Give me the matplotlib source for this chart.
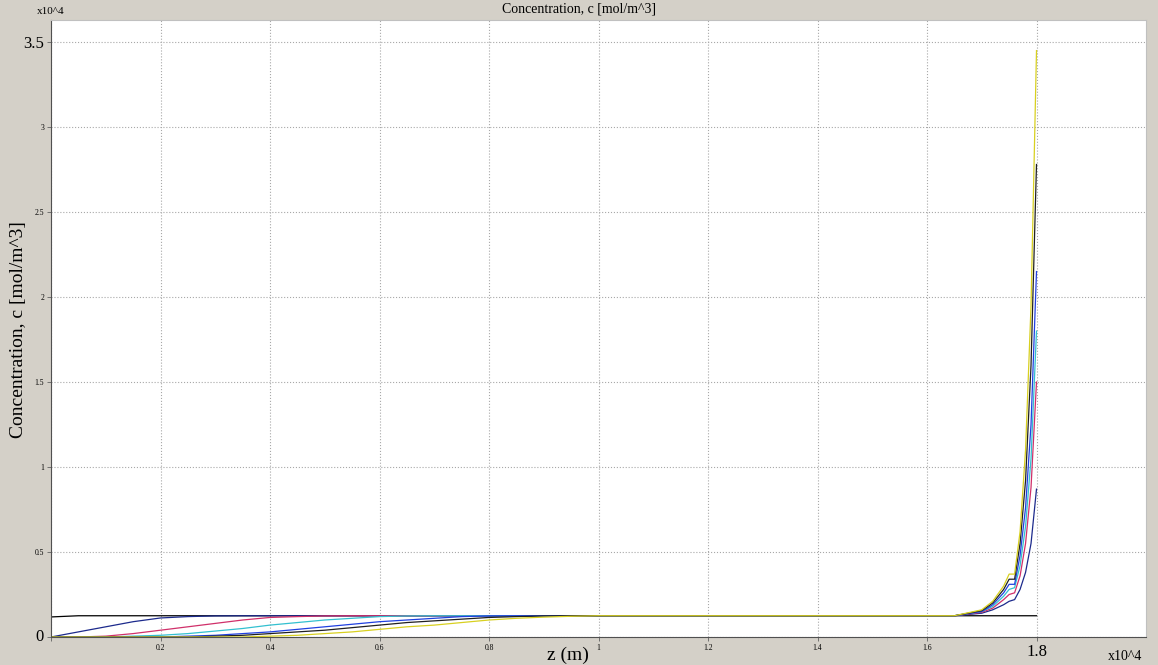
import numpy as np
import matplotlib
matplotlib.use("Agg")
import matplotlib.pyplot as plt

plt.rcParams['font.family'] = ['Liberation Serif', 'DejaVu Serif']

# z positions in units of 10^4 m
z = [0.0, 0.05, 0.1, 0.15, 0.2, 0.25, 0.3, 0.35, 0.4, 0.45, 0.5, 0.55, 0.6,
     0.65, 0.7, 0.75, 0.8, 0.85, 0.9, 0.95, 1.0, 1.6, 1.65, 1.7, 1.72, 1.74,
     1.75, 1.76, 1.77, 1.78, 1.79, 1.8]

# concentration profiles in units of 10^4 mol/m^3
c0 = [0.118, 0.125, 0.125, 0.125, 0.125, 0.125, 0.125, 0.125, 0.125, 0.125,
      0.125, 0.125, 0.125, 0.125, 0.125, 0.125, 0.125, 0.125, 0.125, 0.125,
      0.125, 0.125, 0.125, 0.125, 0.125, 0.125, 0.125, 0.125, 0.125, 0.125,
      0.125, 0.125]
c1 = [0.0, 0.03, 0.06, 0.09, 0.112, 0.12, 0.124, 0.125, 0.125, 0.125, 0.125,
      0.125, 0.125, 0.125, 0.125, 0.125, 0.125, 0.125, 0.125, 0.125, 0.125,
      0.125, 0.125, 0.14, 0.16, 0.19, 0.21, 0.22, 0.28, 0.38, 0.55, 0.87]
c2 = [0.0, 0.0, 0.005, 0.02, 0.04, 0.06, 0.08, 0.1, 0.115, 0.12, 0.124,
      0.125, 0.125, 0.125, 0.125, 0.125, 0.125, 0.125, 0.125, 0.125, 0.125,
      0.125, 0.125, 0.145, 0.17, 0.22, 0.25, 0.26, 0.36, 0.55, 0.88, 1.5]
c3 = [0.0, 0.0, 0.0, 0.005, 0.01, 0.02, 0.035, 0.05, 0.07, 0.085, 0.1, 0.11,
      0.12, 0.124, 0.125, 0.125, 0.125, 0.125, 0.125, 0.125, 0.125, 0.125,
      0.125, 0.15, 0.18, 0.24, 0.28, 0.29, 0.42, 0.65, 1.05, 1.8]
c4 = [0.0, 0.0, 0.0, 0.0, 0.0, 0.005, 0.01, 0.02, 0.03, 0.045, 0.06, 0.075,
      0.09, 0.1, 0.11, 0.12, 0.124, 0.125, 0.125, 0.125, 0.125, 0.125, 0.125,
      0.15, 0.19, 0.26, 0.31, 0.31, 0.48, 0.76, 1.25, 2.15]
c5 = [0.0, 0.0, 0.0, 0.0, 0.0, 0.0, 0.005, 0.01, 0.02, 0.03, 0.04, 0.055,
      0.07, 0.085, 0.095, 0.105, 0.115, 0.12, 0.124, 0.125, 0.125, 0.125,
      0.125, 0.155, 0.2, 0.28, 0.34, 0.34, 0.55, 0.92, 1.6, 2.78]
c6 = [0.0, 0.0, 0.0, 0.0, 0.0, 0.0, 0.0, 0.0, 0.005, 0.01, 0.02, 0.03, 0.045,
      0.06, 0.07, 0.085, 0.1, 0.11, 0.117, 0.122, 0.125, 0.125, 0.125, 0.16,
      0.21, 0.3, 0.37, 0.37, 0.62, 1.1, 1.95, 3.45]

profiles = [c0, c1, c2, c3, c4, c5, c6]
colors = ['black', '#1c2a8c', '#d0306a', '#33c0d0', '#2040e0', '#202020', '#d8d020']

xticks = [0, 0.2, 0.4, 0.6, 0.8, 1, 1.2, 1.4, 1.6, 1.8]
xticklabels = ['', '0.2', '0.4', '0.6', '0.8', '1', '1.2', '1.4', '1.6', '1.8']
yticks = [0, 0.5, 1, 1.5, 2, 2.5, 3, 3.5]
yticklabels = ['0', '0.5', '1', '1.5', '2', '2.5', '3', '3.5']

bg = '#d4d0c8'
fig = plt.figure(figsize=(11.58, 6.65), dpi=100, facecolor=bg)
ax = fig.add_axes([51 / 1158, 28 / 665, 1095 / 1158, 617 / 665])
ax.set_facecolor('white')

for c, col in zip(profiles, colors):
    ax.plot(z, c, color=col, lw=0.9)

ax.set_xlim(0, 2)
ax.set_ylim(0, 3.63)
ax.set_xticks(xticks)
ax.set_xticklabels(xticklabels)
ax.set_yticks(yticks)
ax.set_yticklabels(yticklabels)
ax.grid(True, color='#a8a8a8', linestyle=':', lw=0.8)
ax.tick_params(length=3, width=0.6, labelsize=5.5, color='#606060', pad=2)

# COMSOL style: end labels drawn larger
for lab in (ax.get_xticklabels()[-1], ax.get_yticklabels()[0],
            ax.get_yticklabels()[-1]):
    lab.set_fontsize(12)
ax.get_yticklabels()[0].set_va('center')

for s in ['top', 'right']:
    ax.spines[s].set_color('#c0c0c0')
for s in ['left', 'bottom']:
    ax.spines[s].set_color('#505050')
    ax.spines[s].set_linewidth(0.8)

fig.text(0.5, 1 - 9 / 665, 'Concentration, c [mol/m^3]', ha='center', va='center', fontsize=10)
fig.text(37 / 1158, 1 - 12 / 665, 'x10^4', ha='left', va='center', fontsize=8)
fig.text(19 / 1158, 1 - 330 / 665, 'Concentration, c [mol/m^3]', ha='center', va='center',
         rotation=90, fontsize=14)
fig.text(568 / 1158, 1 - 655 / 665, 'z (m)', ha='center', va='center', fontsize=14)
fig.text(1125 / 1158, 1 - 657 / 665, 'x10^4', ha='center', va='center', fontsize=10)

fig.savefig('out.png', dpi=100, facecolor=bg)
